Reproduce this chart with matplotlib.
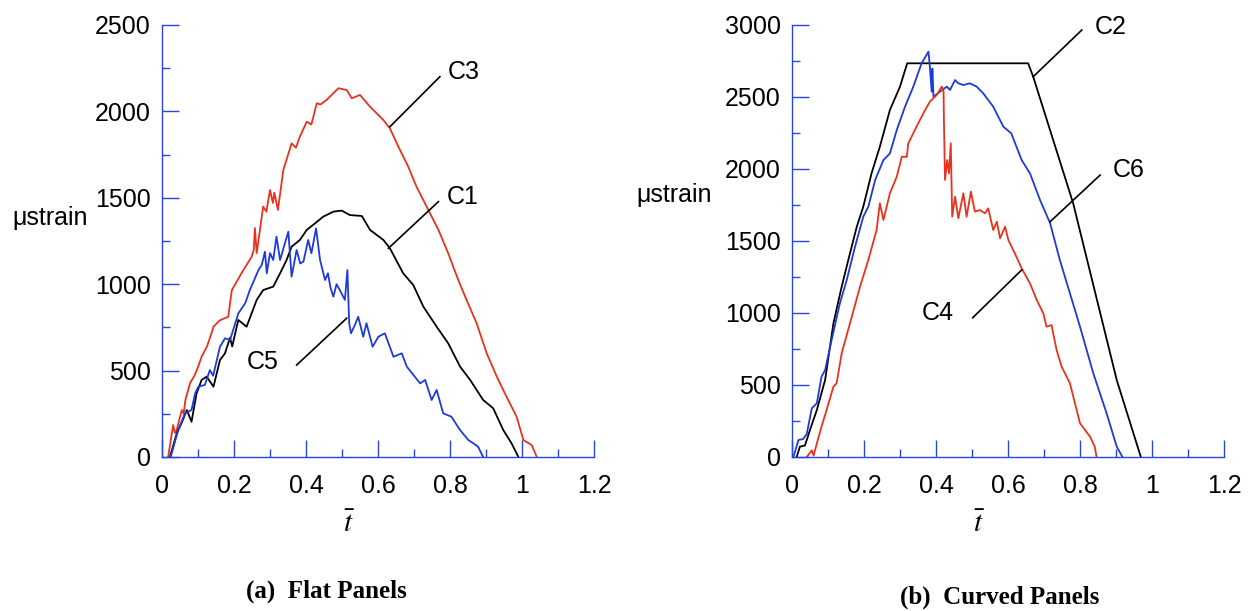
import matplotlib
matplotlib.use("Agg")
import matplotlib.pyplot as plt
from matplotlib.ticker import MultipleLocator

plt.rcParams["font.family"] = ["Liberation Sans", "DejaVu Sans"]
plt.rcParams["mathtext.fontset"] = "stix"

RED = "#e8321e"
BLUE = "#1e3ad8"
AXIS = "#2a45dc"

# ---- (a) flat panels ----
c3_t = [0.017, 0.031, 0.036, 0.040, 0.055, 0.060, 0.065, 0.078, 0.090, 0.100, 0.110, 0.125, 0.135,
        0.143, 0.160, 0.184, 0.194, 0.221, 0.249, 0.255, 0.258, 0.263, 0.281, 0.290, 0.300, 0.308,
        0.312, 0.322, 0.337, 0.360, 0.372, 0.383, 0.402, 0.415, 0.430, 0.440, 0.457, 0.490, 0.513,
        0.527, 0.550, 0.578, 0.615, 0.633, 0.661, 0.684, 0.707, 0.740, 0.768, 0.795, 0.823, 0.846,
        0.874, 0.902, 0.930, 0.957, 0.985, 1.004, 1.027, 1.041]
c3_s = [0, 185, 140, 150, 272, 250, 330, 428, 470, 520, 580, 640, 700,
        754, 790, 812, 966, 1064, 1159, 1200, 1325, 1180, 1449, 1420, 1545, 1470,
        1530, 1430, 1661, 1815, 1790, 1854, 1940, 1925, 2047, 2040, 2066, 2134, 2124,
        2076, 2095, 2027, 1950, 1902, 1777, 1680, 1564, 1429, 1314, 1179, 1024, 909,
        774, 600, 465, 349, 233, 98, 69, 0]

c1_t = [0.022, 0.041, 0.055, 0.069, 0.082, 0.096, 0.110, 0.124, 0.143, 0.161, 0.175, 0.189, 0.195,
        0.212, 0.235, 0.263, 0.281, 0.309, 0.328, 0.346, 0.360, 0.383, 0.402, 0.425, 0.448, 0.476,
        0.499, 0.522, 0.555, 0.578, 0.615, 0.633, 0.670, 0.698, 0.726, 0.763, 0.795, 0.828, 0.856,
        0.892, 0.920, 0.948, 0.971, 0.990]
c1_s = [0, 137, 200, 272, 204, 368, 446, 465, 407, 561, 600, 690, 640,
        793, 754, 909, 966, 986, 1063, 1140, 1217, 1256, 1314, 1352, 1391, 1420,
        1426, 1400, 1395, 1314, 1256, 1208, 1063, 995, 870, 754, 658, 523, 446,
        330, 282, 156, 79, 0]

c5_t = [0.024, 0.045, 0.064, 0.082, 0.092, 0.101, 0.119, 0.133, 0.142, 0.161, 0.175, 0.189, 0.212,
        0.231, 0.244, 0.268, 0.277, 0.286, 0.291, 0.300, 0.309, 0.318, 0.328, 0.340, 0.351, 0.360,
        0.374, 0.384, 0.393, 0.406, 0.415, 0.428, 0.439, 0.453, 0.461, 0.468, 0.476, 0.485, 0.494,
        0.508, 0.515, 0.520, 0.525, 0.535, 0.545, 0.559, 0.568, 0.585, 0.601, 0.619, 0.643, 0.666,
        0.680, 0.717, 0.731, 0.749, 0.763, 0.781, 0.804, 0.828, 0.851, 0.865, 0.878, 0.892]
c5_s = [0, 156, 253, 272, 368, 407, 417, 503, 470, 638, 687, 677, 831,
        889, 966, 1082, 1111, 1188, 1063, 1180, 1140, 1275, 1140, 1227, 1304, 1044,
        1198, 1120, 1131, 1256, 1179, 1323, 1140, 1024, 1063, 980, 928, 1000, 966,
        909, 1082, 774, 716, 760, 812, 696, 774, 638, 696, 716, 580, 600,
        523, 426, 446, 330, 388, 253, 233, 156, 98, 79, 60, 0]

# ---- (b) curved panels ----
c2_t = [0.013, 0.022, 0.036, 0.050, 0.069, 0.092, 0.115, 0.138, 0.161, 0.180, 0.198, 0.221, 0.244,
        0.272, 0.300, 0.320, 0.656, 0.670, 0.781, 0.902, 0.969]
c2_s = [0, 72, 80, 188, 326, 535, 928, 1183, 1414, 1600, 1738, 1970, 2155,
        2410, 2572, 2734, 2734, 2641, 1762, 535, 0]

c6_t = [0.004, 0.018, 0.031, 0.041, 0.055, 0.069, 0.082, 0.092, 0.110, 0.133, 0.152, 0.175, 0.198,
        0.212, 0.231, 0.254, 0.272, 0.291, 0.314, 0.337, 0.360, 0.379, 0.383, 0.388, 0.390, 0.393,
        0.411, 0.430, 0.439, 0.453, 0.462, 0.476, 0.494, 0.513, 0.531, 0.559, 0.587, 0.609, 0.638,
        0.661, 0.689, 0.717, 0.744, 0.772, 0.800, 0.837, 0.874, 0.902, 0.918]
c6_s = [0, 118, 125, 160, 338, 373, 558, 604, 812, 1067, 1229, 1460, 1669,
        1738, 1924, 2062, 2108, 2271, 2433, 2572, 2734, 2815, 2711, 2537, 2697, 2502,
        2537, 2572, 2549, 2618, 2595, 2583, 2595, 2572, 2526, 2433, 2294, 2248, 2062,
        1970, 1785, 1623, 1368, 1137, 905, 581, 303, 72, 0]

c4_t = [0.041, 0.050, 0.055, 0.060, 0.069, 0.082, 0.096, 0.115, 0.124, 0.138, 0.161, 0.189, 0.212,
        0.235, 0.244, 0.254, 0.272, 0.291, 0.305, 0.319, 0.323, 0.346, 0.365, 0.383, 0.402, 0.416,
        0.421, 0.422, 0.425, 0.431, 0.436, 0.441, 0.445, 0.453, 0.462, 0.476, 0.485, 0.497, 0.508,
        0.522, 0.536, 0.545, 0.559, 0.569, 0.578, 0.592, 0.601, 0.619, 0.638, 0.661, 0.680, 0.698,
        0.707, 0.721, 0.735, 0.749, 0.772, 0.786, 0.800, 0.828, 0.841, 0.846]
c4_s = [0, 30, 46, 10, 95, 210, 326, 488, 512, 720, 928, 1183, 1368,
        1576, 1762, 1646, 1831, 1947, 2085, 2085, 2178, 2294, 2387, 2468, 2514, 2572,
        2540, 2340, 1924, 2062, 1970, 2178, 1669, 1808, 1658, 1831, 1669, 1843, 1704,
        1715, 1692, 1727, 1576, 1634, 1519, 1600, 1507, 1414, 1310, 1206, 1090, 998,
        905, 916, 743, 627, 512, 373, 234, 141, 72, 0]

fig = plt.figure(figsize=(12.48, 6.11), dpi=100)
ax1 = fig.add_axes([162 / 1248, 1 - 457 / 611, 432 / 1248, 432 / 611])
ax2 = fig.add_axes([792 / 1248, 1 - 457 / 611, 432 / 1248, 432 / 611])


def style(ax, ymax):
    ax.set_xlim(0, 1.2)
    ax.set_ylim(0, ymax)
    ax.xaxis.set_major_locator(MultipleLocator(0.2))
    ax.xaxis.set_minor_locator(MultipleLocator(0.1))
    ax.yaxis.set_major_locator(MultipleLocator(500))
    ax.yaxis.set_minor_locator(MultipleLocator(250))
    ax.xaxis.set_major_formatter(plt.FuncFormatter(lambda v, p: f"{v:g}"))
    for s in ["top", "right"]:
        ax.spines[s].set_visible(False)
    for s in ["left", "bottom"]:
        ax.spines[s].set_color(AXIS)
        ax.spines[s].set_linewidth(1.0)
    ax.tick_params(which="major", direction="in", length=12, width=1.0, color=AXIS,
                   labelsize=18, labelcolor="black")
    ax.tick_params(which="minor", direction="in", length=6, width=1.0, color=AXIS)
    ax.tick_params(axis="y", which="major", pad=8)
    ax.tick_params(axis="x", which="major", pad=12)
    ax.text(0.52, -0.155, r"$\bar{t}$", transform=ax.get_xaxis_transform(),
            fontsize=21, ha="center", va="center")


style(ax1, 2500)
style(ax2, 3000)

ax1.plot(c3_t, c3_s, color=RED, lw=1.3)
ax1.plot(c1_t, c1_s, color="black", lw=1.3)
ax1.plot(c5_t, c5_s, color=BLUE, lw=1.3)

ax2.plot(c2_t, c2_s, color="black", lw=1.3)
ax2.plot(c6_t, c6_s, color=BLUE, lw=1.3)
ax2.plot(c4_t, c4_s, color=RED, lw=1.3)

# leader lines and curve labels
ax1.plot([0.633, 0.772], [1911, 2201], color="black", lw=1.2)
ax1.text(0.794, 2228, "C3", fontsize=18, va="center", ha="left")
ax1.plot([0.629, 0.768], [1208, 1478], color="black", lw=1.2)
ax1.text(0.791, 1506, "C1", fontsize=18, va="center", ha="left")
ax1.plot([0.374, 0.513], [532, 803], color="black", lw=1.2)
ax1.text(0.235, 552, "C5", fontsize=18, va="center", ha="left")

ax2.plot([0.670, 0.805], [2641, 2965], color="black", lw=1.2)
ax2.text(0.842, 2986, "C2", fontsize=18, va="center", ha="left")
ax2.plot([0.717, 0.856], [1634, 1958], color="black", lw=1.2)
ax2.text(0.892, 1993, "C6", fontsize=18, va="center", ha="left")
ax2.plot([0.638, 0.502], [1299, 967], color="black", lw=1.2)
ax2.text(0.360, 998, "C4", fontsize=18, va="center", ha="left")

fig.text(12 / 1248, 1 - 218 / 611, "\u03bcstrain", fontsize=18, ha="left", va="center")
fig.text(636 / 1248, 1 - 195 / 611, "\u03bcstrain", fontsize=18, ha="left", va="center")

fig.text(326 / 1248, 1 - 591 / 611, "(a)  Flat Panels", fontsize=18, fontweight="bold",
         family="Liberation Serif", ha="center", va="center")
fig.text(1000 / 1248, 1 - 597 / 611, "(b)  Curved Panels", fontsize=18, fontweight="bold",
         family="Liberation Serif", ha="center", va="center")

fig.savefig("out.png", dpi=100)
